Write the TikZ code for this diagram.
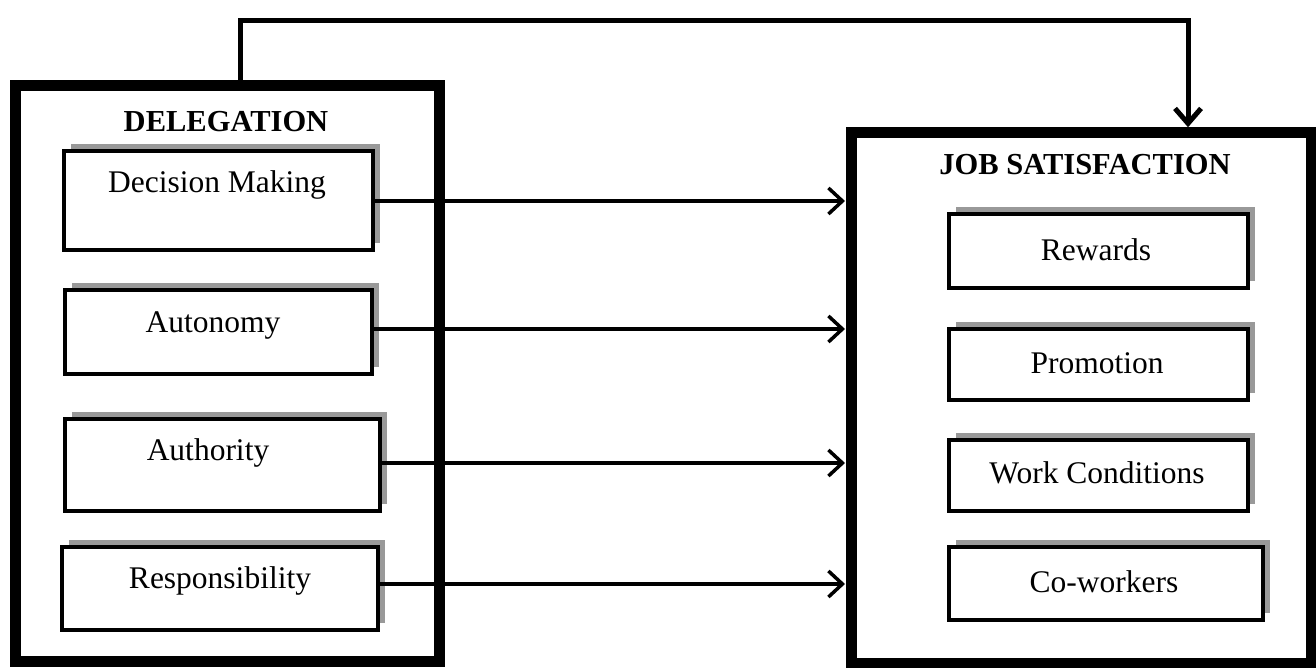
\documentclass[tikz,border=0pt]{standalone}
\usepackage{fontspec}
\setmainfont{Liberation Serif}
\usetikzlibrary{arrows.meta,shadows}
\begin{document}
\begin{tikzpicture}[x=1pt,y=-1pt,
 obox/.style={draw, line width=10.5pt, inner sep=0pt, fill=white},
 ibox/.style={draw, line width=3.8pt, inner sep=0pt, fill=white,
   general shadow={fill=black!40, shadow xshift=7pt, shadow yshift=7pt}},
 lbl/.style={anchor=base, inner sep=0pt, font=\fontsize{31.5}{36}\selectfont},
 hd/.style={anchor=base, inner sep=0pt, font=\fontsize{30.5}{36}\selectfont\bfseries},
 conn/.style={line width=3.5pt, -{Straight Barb[length=14pt,width=26pt]}, shorten >=1pt},
 topconn/.style={line width=5pt, -{Straight Barb[length=15pt,width=26pt]}},
 ]
\useasboundingbox (0,0) rectangle (1316,668);
% outer boxes
\node[obox, minimum width=424pt, minimum height=576pt] (del) at (227.5,373.5) {};
\node[obox, minimum width=459.5pt, minimum height=530.5pt] (js) at (1081,397.75) {};
% headings
\node[hd] (delt) at (226,132) {DELEGATION};
\node[hd] (jst) at (1085,175) {JOB SATISFACTION};
% left inner boxes
\node[ibox, minimum width=309pt, minimum height=99pt] (dm) at (218.5,200.5) {};
\node[ibox, minimum width=307pt, minimum height=84pt] (au) at (218.5,332) {};
\node[ibox, minimum width=315pt, minimum height=92pt] (at) at (222.5,465) {};
\node[ibox, minimum width=316pt, minimum height=83pt] (rs) at (220,588.5) {};
\node[lbl] (dmt) at (217,193) {Decision Making};
\node[lbl] (aut) at (213,332) {Autonomy};
\node[lbl] (att) at (208,460) {Authority};
\node[lbl] (rst) at (220,588) {Responsibility};
% right inner boxes
\node[ibox, minimum width=299pt, minimum height=74pt] (rw) at (1098.5,251) {};
\node[ibox, minimum width=299pt, minimum height=71pt] (pr) at (1098.5,364.5) {};
\node[ibox, minimum width=299pt, minimum height=71pt] (wc) at (1098.5,475.5) {};
\node[ibox, minimum width=314pt, minimum height=73pt] (cw) at (1106,583.5) {};
\node[lbl] (rwt) at (1096,260) {Rewards};
\node[lbl] (prt) at (1097,373) {Promotion};
\node[lbl] (wct) at (1097,483) {Work Conditions};
\node[lbl] (cwt) at (1104,592) {Co-workers};
% connectors
\draw[conn] ([yshift=-0.5pt]dm.east) coordinate (s1) -- (s1 -| js.west);
\draw[conn] ([yshift=3pt]au.east) coordinate (s2) -- (s2 -| js.west);
\draw[conn] ([yshift=2pt]at.east) coordinate (s3) -- (s3 -| js.west);
\draw[conn] ([yshift=4.5pt]rs.east) coordinate (s4) -- (s4 -| js.west);
\draw[topconn] ([xshift=12.5pt]del.north) -- ++(0,-60) -| ([xshift=107pt]js.north);
\end{tikzpicture}
\end{document}
